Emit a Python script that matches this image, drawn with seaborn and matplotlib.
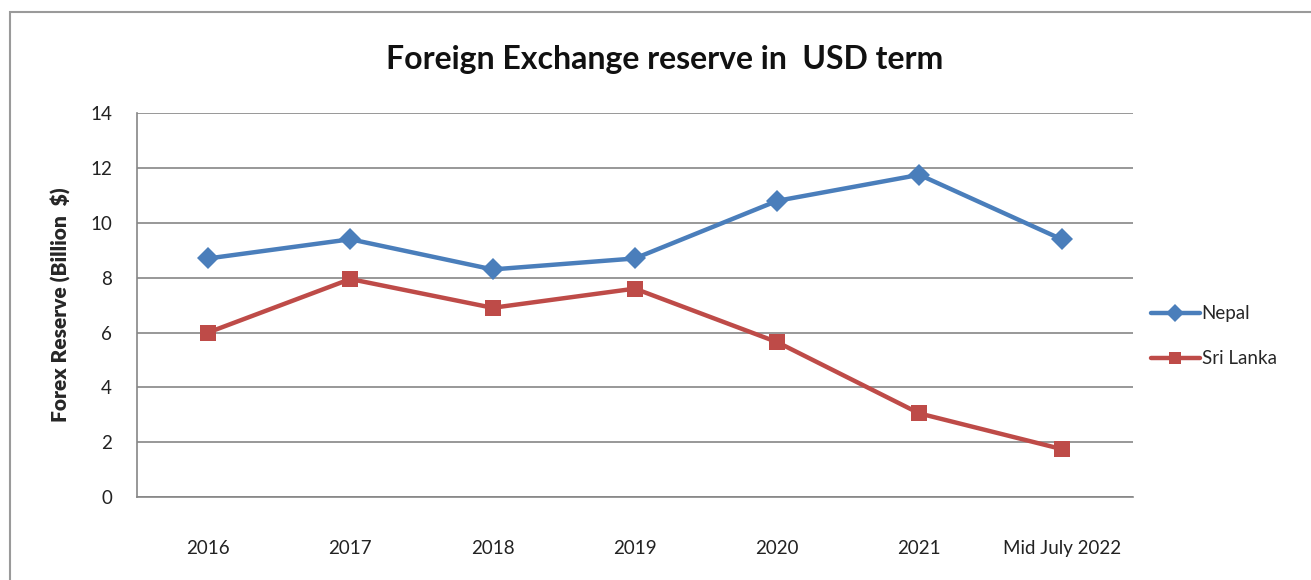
import pandas as pd
import seaborn as sns
import matplotlib.pyplot as plt
from matplotlib.patches import Rectangle

# Values (billion USD)
years = ["2016", "2017", "2018", "2019", "2020", "2021", "Mid July 2022"]
nepal = [8.7, 9.4, 8.3, 8.7, 10.8, 11.75, 9.4]
sri_lanka = [6.0, 7.95, 6.9, 7.6, 5.65, 3.05, 1.75]

df = pd.DataFrame({
    "Year": years * 2,
    "Reserve": nepal + sri_lanka,
    "Country": ["Nepal"] * len(years) + ["Sri Lanka"] * len(years),
})

sns.set_style("white")
plt.rcParams["font.family"] = ["Lato", "DejaVu Sans"]

fig = plt.figure(figsize=(13.11, 5.8), dpi=100)
ax = fig.add_axes([0.1045, 0.143, 0.7595, 0.662])

palette = {"Nepal": "#4A7EBB", "Sri Lanka": "#BE4B48"}
sns.lineplot(data=df, x="Year", y="Reserve", hue="Country", style="Country",
             markers={"Nepal": "D", "Sri Lanka": "s"}, dashes=False,
             palette=palette, linewidth=3.2, markersize=11, sort=False,
             markeredgewidth=0, ax=ax)

ax.set_xlim(-0.5, len(years) - 0.5)
ax.set_ylim(0, 14)
ax.set_yticks(range(0, 15, 2))
ax.yaxis.grid(True, color="#868686", linewidth=1.2)
ax.set_axisbelow(True)
for s in ["top", "right"]:
    ax.spines[s].set_visible(False)
for s in ["left", "bottom"]:
    ax.spines[s].set_color("#868686")
    ax.spines[s].set_linewidth(1.2)
ax.tick_params(axis="y", length=5, color="#868686", labelsize=13.5, labelcolor="#222222", pad=13)
ax.tick_params(axis="x", length=0, labelsize=13.5, labelcolor="#222222", pad=31)
ax.set_xlabel("")
ax.set_ylabel("Forex Reserve (Billion  $)", fontsize=15, fontweight="heavy", labelpad=14)

fig.text(0.507, 0.898, "Foreign Exchange reserve in  USD term", ha="center", va="center",
         fontsize=23, fontweight="bold", color="#111111")

handles, labels = ax.get_legend_handles_labels()
ax.legend(handles, labels, loc="center left", bbox_to_anchor=(0.865, 0.42),
          bbox_transform=fig.transFigure, frameon=False, fontsize=13.5,
          handlelength=2.6, handletextpad=0.1, labelspacing=1.5, markerscale=0.8)

# chart frame from the spreadsheet screenshot
fig.patches.append(Rectangle((0.008, -0.05), 1.1, 1.03, transform=fig.transFigure,
                             fill=False, edgecolor="#9a9a9a", linewidth=1.5))

fig.savefig("out.png", dpi=100)
